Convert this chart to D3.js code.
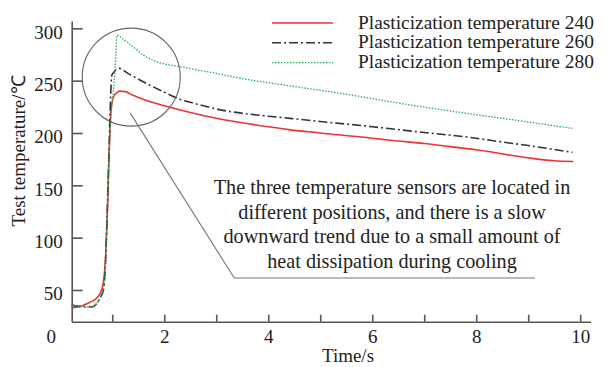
<!DOCTYPE html>
<html lang="en">
<head>
    <meta charset="UTF-8">
    <title>Test temperature vs time</title>
    <script src="https://cdn.jsdelivr.net/npm/d3@7/dist/d3.min.js"></script>
    <style>
        body { margin: 0; background: #fff; }
        svg text { font-family: "Liberation Serif", "Times New Roman", serif; fill: #222; }
        .axis path, .axis line { fill: none; stroke: #555; stroke-width: 1.6; }
        .axis text { font-size: 19px; }
    </style>
</head>
<body>
<svg id="vis" width="607" height="367"></svg>
<script>
    // Plasticization temperature 240
    let t240 = [0.22, 0.4, 0.58, 0.67, 0.77, 0.82, 0.85, 0.88, 0.91, 0.94, 0.97, 1.0, 1.04, 1.1, 1.15, 1.25, 1.4, 1.63, 2.0, 2.31, 3.0, 4.0, 4.42, 5.0, 6.0, 6.35, 7.0, 7.5, 8.0, 8.27, 8.7, 9.04, 9.5, 9.87];
    let v240 = [33, 34.5, 38.5, 41, 47, 55, 66, 90, 130, 180, 218, 230, 236, 239, 240, 239.5, 236, 231.5, 226, 222, 214, 206, 203, 200, 195, 193, 190, 187, 184, 182, 178.5, 176, 173.5, 172.8];

    // Plasticization temperature 260
    let t260 = [0.22, 0.35, 0.5, 0.62, 0.7, 0.76, 0.83, 0.87, 0.9, 0.93, 0.95, 0.97, 0.99, 1.03, 1.08, 1.12, 1.3, 1.63, 2.0, 2.31, 2.6, 3.0, 4.0, 4.42, 5.0, 6.0, 6.54, 7.0, 8.0, 8.27, 9.0, 9.85];
    let v260 = [35.5, 34.5, 33.8, 34, 37, 42, 50, 76, 120, 170, 205, 236, 255, 258, 261, 262, 257, 248, 239, 232, 228, 223, 216, 214, 211, 206, 203, 200.5, 195, 193, 188, 181.5];

    // Plasticization temperature 280
    let t280 = [0.22, 0.35, 0.5, 0.62, 0.7, 0.76, 0.83, 0.87, 0.9, 0.93, 0.96, 1.0, 1.03, 1.07, 1.09, 1.2, 1.31, 1.63, 1.96, 2.27, 2.6, 3.0, 3.5, 4.42, 5.5, 6.54, 7.5, 8.5, 9.85];
    let v280 = [35.5, 34.5, 33.8, 34, 37, 42, 50, 76, 120, 170, 203, 230, 244, 276, 293.5, 290, 286, 273.4, 266.5, 263.8, 260.6, 257, 252, 245, 237, 228.3, 221, 214, 204.4];

    let seriesNames = ["Plasticization temperature 240", "Plasticization temperature 260", "Plasticization temperature 280"];
    let xTicks = [1, 2, 3, 4, 5, 6, 7, 8, 9, 10];
    let yTicks = [50, 100, 150, 200, 250, 300];
    let note = ["The three temperature sensors are located in",
                "different positions, and there is a slow",
                "downward trend due to a small amount of",
                "heat dissipation during cooling"];

    let svg = d3.select("#vis");

    let x = d3.scaleLinear().domain([0.22, 10.2]).range([71.7, 590.6]);
    let y = d3.scaleLinear().domain([19.7, 307]).range([321.7, 21]);

    let styles = [
        { color: "#ee3333", dash: null, width: 1.6 },
        { color: "#333333", dash: "9,3,2,3", width: 1.6 },
        { color: "#2eaa60", dash: "1.5,1.5", width: 1.3 }
    ];

    let series = [
        d3.zip(t240, v240),
        d3.zip(t260, v260),
        d3.zip(t280, v280)
    ];

    /* axes */
    svg.append("g")
        .attr("class", "axis")
        .attr("transform", "translate(0," + y.range()[0] + ")")
        .call(d3.axisBottom(x).tickValues(xTicks).tickSizeInner(-7).tickSizeOuter(0).tickPadding(8)
            .tickFormat(d => d % 2 === 0 ? d : ""));

    svg.append("g")
        .attr("class", "axis")
        .attr("transform", "translate(" + x.range()[0] + ",0)")
        .call(d3.axisLeft(y).tickValues(yTicks).tickSizeInner(-11).tickSizeOuter(0).tickPadding(9))
        .selectAll("text").attr("dy", "0.52em");

    svg.append("text")
        .attr("x", x(0) - 9).attr("y", 343)
        .attr("text-anchor", "middle")
        .style("font-size", "19px")
        .text("0");

    svg.append("text")
        .attr("x", 348).attr("y", 362)
        .attr("text-anchor", "middle")
        .style("font-size", "19px")
        .text("Time/s");

    svg.append("text")
        .attr("transform", "translate(25,151) rotate(-90)")
        .attr("text-anchor", "middle")
        .style("font-size", "19px")
        .text("Test temperature/℃");

    /* curves */
    let line = d3.line()
        .x(d => x(d[0]))
        .y(d => y(d[1]))
        .curve(d3.curveMonotoneX);

    svg.selectAll(".curve")
        .data(series)
        .join("path")
        .attr("class", "curve")
        .attr("d", line)
        .attr("fill", "none")
        .attr("stroke", (d, i) => styles[i].color)
        .attr("stroke-width", (d, i) => styles[i].width)
        .attr("stroke-dasharray", (d, i) => styles[i].dash);

    /* annotation */
    svg.append("circle")
        .attr("cx", x(1.365)).attr("cy", y(253.4)).attr("r", 49)
        .attr("fill", "none").attr("stroke", "#666").attr("stroke-width", 1.1);

    svg.append("polyline")
        .attr("points", [[x(1.346), y(219)], [x(3.346), y(61.5)], [x(9.13), y(61.5)]].map(p => p.join(",")).join(" "))
        .attr("fill", "none").attr("stroke", "#777").attr("stroke-width", 1.1);

    svg.append("g").selectAll("text")
        .data(note)
        .join("text")
        .attr("x", 392)
        .attr("y", (d, i) => 194 + i * 24.7)
        .attr("text-anchor", "middle")
        .style("font-size", "20.2px")
        .text(d => d);

    /* legend */
    let legend = svg.append("g").selectAll("g")
        .data(seriesNames)
        .join("g")
        .attr("transform", (d, i) => "translate(0," + (23 + i * 19.8) + ")");

    legend.append("line")
        .attr("x1", 272).attr("x2", 333)
        .attr("stroke", (d, i) => styles[i].color)
        .attr("stroke-width", (d, i) => styles[i].width)
        .attr("stroke-dasharray", (d, i) => styles[i].dash);

    legend.append("text")
        .attr("x", 358).attr("y", 5.5)
        .style("font-size", "19.4px")
        .text(d => d);
</script>
</body>
</html>
